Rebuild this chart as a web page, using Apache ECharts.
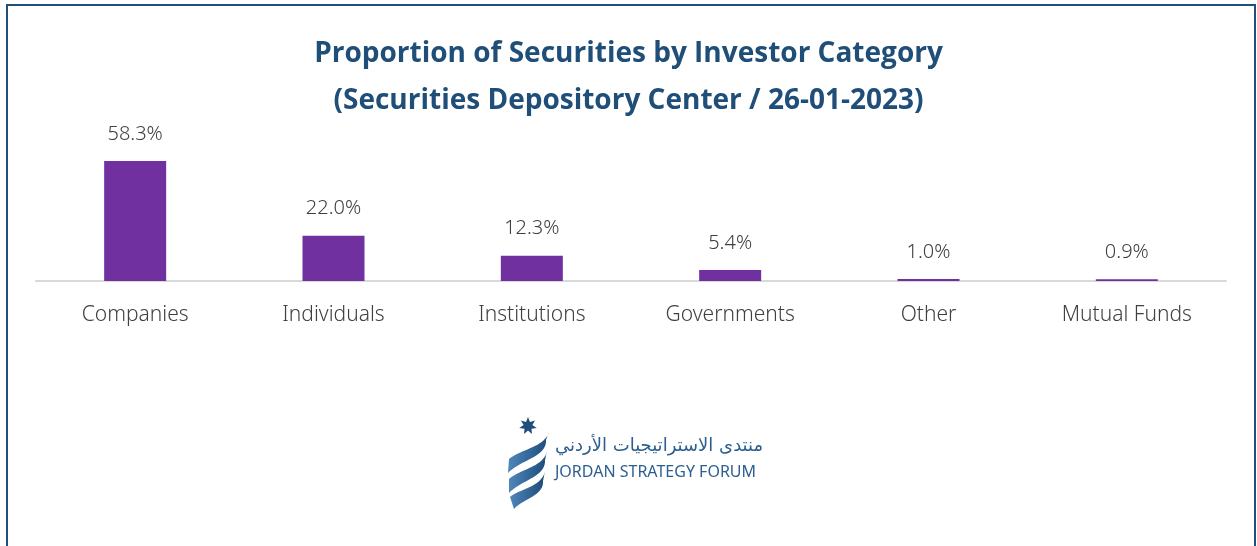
<!DOCTYPE html>
<html><head><meta charset="utf-8">
<script src="https://cdn.jsdelivr.net/npm/echarts@6/dist/echarts.min.js"></script>
<style>html,body{margin:0;padding:0;background:#fff}#c{width:1257px;height:546px}</style>
</head><body><div id="c"></div>
<script>
const titleLines = ['Proportion of Securities by Investor Category', '(Securities Depository Center / 26-01-2023)'];
const categories = ['Companies', 'Individuals', 'Institutions', 'Governments', 'Other', 'Mutual Funds'];
const values = [58.3, 22.0, 12.3, 5.4, 1.0, 0.9];

function starPoints(cx, cy, R, r, n) {
  const pts = [];
  for (let i = 0; i < 2 * n; i++) {
    const a = -Math.PI / 2 + i * Math.PI / n;
    const rad = i % 2 === 0 ? R : r;
    pts.push([cx + rad * Math.cos(a), cy + rad * Math.sin(a)]);
  }
  return pts;
}
function bez(p0, p1, p2, p3, steps) {
  const out = [];
  for (let i = 0; i <= steps; i++) {
    const t = i / steps, u = 1 - t;
    out.push([
      u*u*u*p0[0] + 3*u*u*t*p1[0] + 3*u*t*t*p2[0] + t*t*t*p3[0],
      u*u*u*p0[1] + 3*u*u*t*p1[1] + 3*u*t*t*p2[1] + t*t*t*p3[1]
    ]);
  }
  return out;
}
function ribbon(a, b) {
  return bez(a[0], a[1], a[2], a[3], 20).concat(bez(b[0], b[1], b[2], b[3], 20));
}
function blueGrad() {
  return new echarts.graphic.LinearGradient(0, 0, 1, 0, [{offset:0,color:'#4f86ba'},{offset:1,color:'#1c4a7a'}]);
}

const chart = echarts.init(document.getElementById('c'), null, {renderer:'canvas'});
chart.setOption({
  backgroundColor:'#ffffff',
  animation:false,
  title:{
    text: titleLines.join('\n'),
    left:'center', top:26,
    textStyle:{fontFamily:'Open Sans', fontWeight:'bold', fontSize:28, color:'#1f4e79', lineHeight:47}
  },
  grid:{left:36, right:31, top:137, height:144},
  xAxis:{
    type:'category', data:categories,
    axisLine:{lineStyle:{color:'#d9d9d9', width:2}},
    axisTick:{show:false},
    axisLabel:{color:'#404040', fontSize:21, fontFamily:'Noto Sans', fontWeight:300, margin:24}
  },
  yAxis:{type:'value', min:0, max:70, show:false, splitLine:{show:false}},
  series:[{
    type:'bar', data:values, barWidth:62,
    itemStyle:{color:'#7030a0'},
    label:{show:true, position:'top', distance:17, color:'#404040', fontSize:20, fontFamily:'Noto Sans', fontWeight:300,
      formatter:p=>p.value.toFixed(1)+'%'}
  }],
  graphic:[
    {type:'rect', shape:{x:7, y:5, width:1248, height:560}, style:{fill:'none', stroke:'#1f4e79', lineWidth:2}, z:100},
    {type:'polygon', shape:{points:starPoints(528,426,9,4.5,7)}, style:{fill:'#1f4e7c'}},
    {type:'polygon', shape:{points:ribbon([[549,431],[546,447],[521,449],[509,459]],[[508,473],[520,460],[547,457],[546,440]])}, style:{fill:blueGrad()}},
    {type:'polygon', shape:{points:ribbon([[547,451],[544,467],[520,469],[509,479]],[[509,493],[521,480],[546,477],[545,460]])}, style:{fill:blueGrad()}},
    {type:'polygon', shape:{points:ribbon([[545,471],[542,487],[519,489],[510,497]],[[514,509],[522,499],[544,496],[543,481]])}, style:{fill:blueGrad()}},
    {type:'text', x:555, y:437, style:{text:'منتدى الاستراتيجيات الأردني', font:'18px "DejaVu Sans"', fill:'#2c5f8f'}},
    {type:'text', x:555, y:464, style:{text:'JORDAN STRATEGY FORUM', font:'16px "Noto Sans"', fill:'#2c5f8f'}}
  ]
});
</script></body></html>
